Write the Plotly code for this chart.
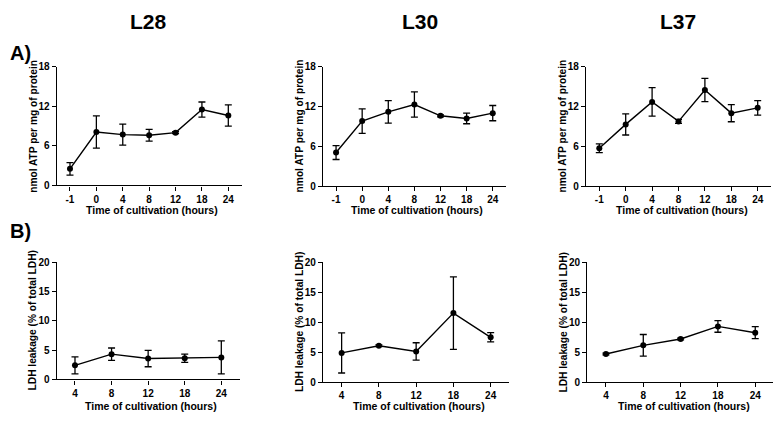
import plotly.graph_objects as go

W, H = 781, 425
OFF = 8  # page body margin offset in the viewer

# ---------------- data ----------------
atp_times = ["-1", "0", "4", "8", "12", "18", "24"]
ldh_times = ["4", "8", "12", "18", "24"]

atp_L28 = [2.5, 8.1, 7.7, 7.6, 8.0, 11.5, 10.6]
atp_L28_err = [0.95, 2.45, 1.6, 0.9, 0.15, 1.15, 1.6]
atp_L30 = [5.05, 9.8, 11.2, 12.3, 10.6, 10.2, 11.0]
atp_L30_err = [1.05, 1.85, 1.7, 1.9, 0.15, 0.8, 1.15]
atp_L37 = [5.7, 9.3, 12.7, 9.75, 14.5, 11.0, 11.8]
atp_L37_err = [0.65, 1.6, 2.15, 0.3, 1.75, 1.3, 1.1]

ldh_L28 = [2.4, 4.3, 3.55, 3.6, 3.75]
ldh_L28_err = [1.45, 1.05, 1.4, 0.7, 2.8]
ldh_L30 = [4.85, 6.05, 5.1, 11.5, 7.45]
ldh_L30_err = [3.35, 0.15, 1.45, 6.05, 0.77]
ldh_L37 = [4.7, 6.15, 7.2, 9.3, 8.25]
ldh_L37_err = [0.15, 1.8, 0.15, 0.97, 1.0]

strains = ["L28", "L30", "L37"]
atp_tickvals = [0, 6, 12, 18]
ldh_tickvals = [0, 5, 10, 15, 20]
atp_ytitle = "nmol ATP per mg of protein"
ldh_ytitle = "LDH leakage (% of total LDH)"
xtitle = "Time of cultivation (hours)"


def fx(px):
    return (px - OFF) / W


def fy(py):
    return 1 - (py - OFF) / H


# ---------------- layout geometry (screen pixels) ----------------
FONT = "Liberation Sans, Arial, sans-serif"
panels = [
    dict(x=(56.8, 241.5), y=(62.3, 184.3)),
    dict(x=(323.0, 505.8), y=(62.3, 185.0)),
    dict(x=(586.1, 770.9), y=(62.3, 185.0)),
    dict(x=(56.7, 239.6), y=(263.3, 384.0)),
    dict(x=(323.0, 509.3), y=(263.3, 386.7)),
    dict(x=(587.3, 773.9), y=(263.3, 387.0)),
]
YTITLE_GAP = 24.0
xtitle_y = [210.0, 210.0, 210.0, 411.0, 411.0, 411.0]

series = [
    (atp_times, atp_L28, atp_L28_err),
    (atp_times, atp_L30, atp_L30_err),
    (atp_times, atp_L37, atp_L37_err),
    (ldh_times, ldh_L28, ldh_L28_err),
    (ldh_times, ldh_L30, ldh_L30_err),
    (ldh_times, ldh_L37, ldh_L37_err),
]

fig = go.Figure()
layout = dict(
    width=W, height=H,
    margin=dict(l=0, r=0, t=0, b=0),
    paper_bgcolor="white", plot_bgcolor="white",
    showlegend=False,
    font=dict(family=FONT, color="black"),
)
annotations = []

for i, (p, (xs, ys, es)) in enumerate(zip(panels, series)):
    n = i + 1
    xa = "x" if n == 1 else f"x{n}"
    ya = "y" if n == 1 else f"y{n}"
    fig.add_trace(go.Scatter(
        x=xs, y=ys, xaxis=xa, yaxis=ya,
        mode="lines+markers",
        line=dict(color="black", width=1.4),
        marker=dict(color="black", size=6),
        error_y=dict(type="data", array=es, visible=True,
                     color="black", thickness=1.3, width=3.5),
        cliponaxis=False,
    ))
    is_atp = i < 3
    xdom = [max(0, fx(p["x"][0])), min(1, fx(p["x"][1]))]
    ydom = [fy(p["y"][1]), fy(p["y"][0])]
    xkey = "xaxis" if n == 1 else f"xaxis{n}"
    ykey = "yaxis" if n == 1 else f"yaxis{n}"
    ncat = len(xs)
    layout[xkey] = dict(
        domain=xdom, anchor=ya, type="category",
        range=[-0.5, ncat - 0.5],
        showline=True, linecolor="black", linewidth=1.4,
        ticks="outside", ticklen=4, tickwidth=1.3, tickcolor="black",
        showgrid=False, zeroline=False,
        tickfont=dict(family=FONT, size=10, color="black", weight="bold"),
        fixedrange=True,
    )
    layout[ykey] = dict(
        domain=ydom, anchor=xa,
        range=[0, 18] if is_atp else [0, 20],
        tickvals=atp_tickvals if is_atp else ldh_tickvals,
        showline=True, linecolor="black", linewidth=1.4,
        ticks="outside", ticklen=4, tickwidth=1.3, tickcolor="black",
        showgrid=False, zeroline=False,
        tickfont=dict(family=FONT, size=10, color="black", weight="bold"),
        fixedrange=True,
    )
    annotations.append(dict(
        text=f"<b>{atp_ytitle if is_atp else ldh_ytitle}</b>",
        x=fx(p["x"][0] - YTITLE_GAP), y=fy((p["y"][0] + p["y"][1]) / 2),
        xref="paper", yref="paper", textangle=-90,
        showarrow=False, xanchor="center", yanchor="middle",
        font=dict(family=FONT, size=10.2, color="black"),
    ))
    annotations.append(dict(
        text=f"<b>{xtitle}</b>",
        x=fx((p["x"][0] + p["x"][1]) / 2 + 3), y=fy(xtitle_y[i]),
        xref="paper", yref="paper",
        showarrow=False, xanchor="center", yanchor="middle",
        font=dict(family=FONT, size=10.5, color="black"),
    ))

for name, cx in zip(strains, [148.5, 420.0, 678.3]):
    annotations.append(dict(
        text=f"<b>{name}</b>", x=fx(cx), y=fy(15.7),
        xref="paper", yref="paper", showarrow=False,
        xanchor="center", yanchor="middle",
        font=dict(family=FONT, size=21, color="black"),
    ))
for lab, cy in [("A)", 48.5), ("B)", 231.0)]:
    annotations.append(dict(
        text=f"<b>{lab}</b>", x=0, y=fy(cy),
        xref="paper", yref="paper", showarrow=False,
        xanchor="left", yanchor="middle",
        font=dict(family=FONT, size=20, color="black"),
    ))

layout["annotations"] = annotations
fig.update_layout(**layout)
fig.write_html("out.html")
